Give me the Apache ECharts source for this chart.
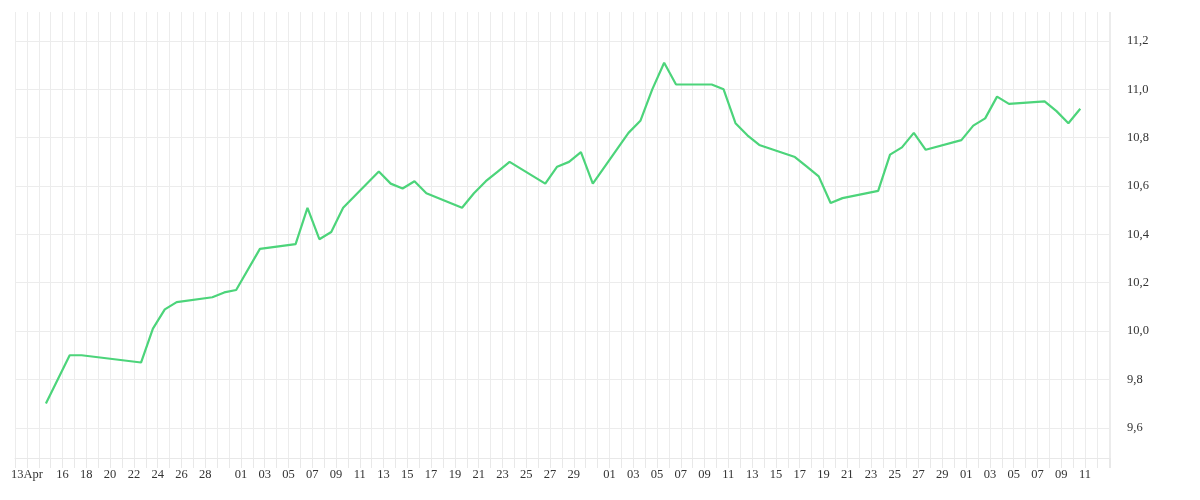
<!DOCTYPE html>
<html><head><meta charset="utf-8">
<script src="https://cdn.jsdelivr.net/npm/echarts@6/dist/echarts.min.js"></script>
<style>html,body{margin:0;padding:0;background:#fff}#c{width:1200px;height:500px}</style>
</head><body><div id="c"></div>
<script>
// day index: days since 12 Apr
const dayIndex = [2,4,5,10,11,12,13,16,17,18,20,23,24,25,26,27,30,31,32,33,34,37,38,39,40,41,44,45,46,47,48,51,52,53,54,55,58,59,60,61,62,65,66,67,68,69,72,73,74,75,76,79,80,81,82,83,86,87,88,89];
const values = [9.70,9.90,9.90,9.87,10.01,10.09,10.12,10.14,10.16,10.17,10.34,10.36,10.51,10.38,10.41,10.51,10.66,10.61,10.59,10.62,10.57,10.51,10.57,10.62,10.66,10.70,10.61,10.68,10.70,10.74,10.61,10.82,10.87,11.00,11.11,11.02,11.02,11.00,10.86,10.81,10.77,10.72,10.68,10.64,10.53,10.55,10.58,10.73,10.76,10.82,10.75,10.79,10.85,10.88,10.97,10.94,10.95,10.91,10.86,10.92];
const tickDays = [1,4,6,8,10,12,14,16,19,21,23,25,27,29,31,33,35,37,39,41,43,45,47,50,52,54,56,58,60,62,64,66,68,70,72,74,76,78,80,82,84,86,88,90];
const tickLabels = ['13Apr','16','18','20','22','24','26','28','01','03','05','07','09','11','13','15','17','19','21','23','25','27','29','01','03','05','07','09','11','13','15','17','19','21','23','25','27','29','01','03','05','07','09','11'];
const yTicks = [9.6,9.8,10.0,10.2,10.4,10.6,10.8,11.0,11.2];
const dayOffset = 0.6;

const labelMap = {};
tickDays.forEach((d,i)=>labelMap[d]=tickLabels[i]);
const chart = echarts.init(document.getElementById('c'));
chart.setOption({
  animation:false,
  grid:{left:15,right:90,top:12,bottom:42},
  xAxis:{type:'value',min:0,max:92.1,interval:1,
    axisLine:{show:true,lineStyle:{color:'#e8e8e8'}},
    axisTick:{show:true,length:10,lineStyle:{color:'#e8e8e8'}},
    splitLine:{show:true,lineStyle:{color:'#ececec'}},
    axisLabel:{margin:10,color:'#333',fontFamily:'Liberation Serif',fontSize:12.5,
      showMinLabel:true,showMaxLabel:true,
      formatter:v=>labelMap[Math.round(v)]||''}},
  yAxis:{type:'value',position:'right',min:9.475,max:11.32,
    axisLine:{show:false},
    axisTick:{show:false,customValues:yTicks},
    splitLine:{show:true,lineStyle:{color:'#ececec'}},
    axisLabel:{customValues:yTicks,margin:17,color:'#333',fontFamily:'Liberation Serif',fontSize:12.5,
      formatter:v=>v.toFixed(1).replace('.',',')}},
  series:[{type:'line',showSymbol:false,smooth:false,
    lineStyle:{color:'#4cd47a',width:2.2},
    data:dayIndex.map((d,i)=>[d+dayOffset,values[i]])}]
});
</script></body></html>
